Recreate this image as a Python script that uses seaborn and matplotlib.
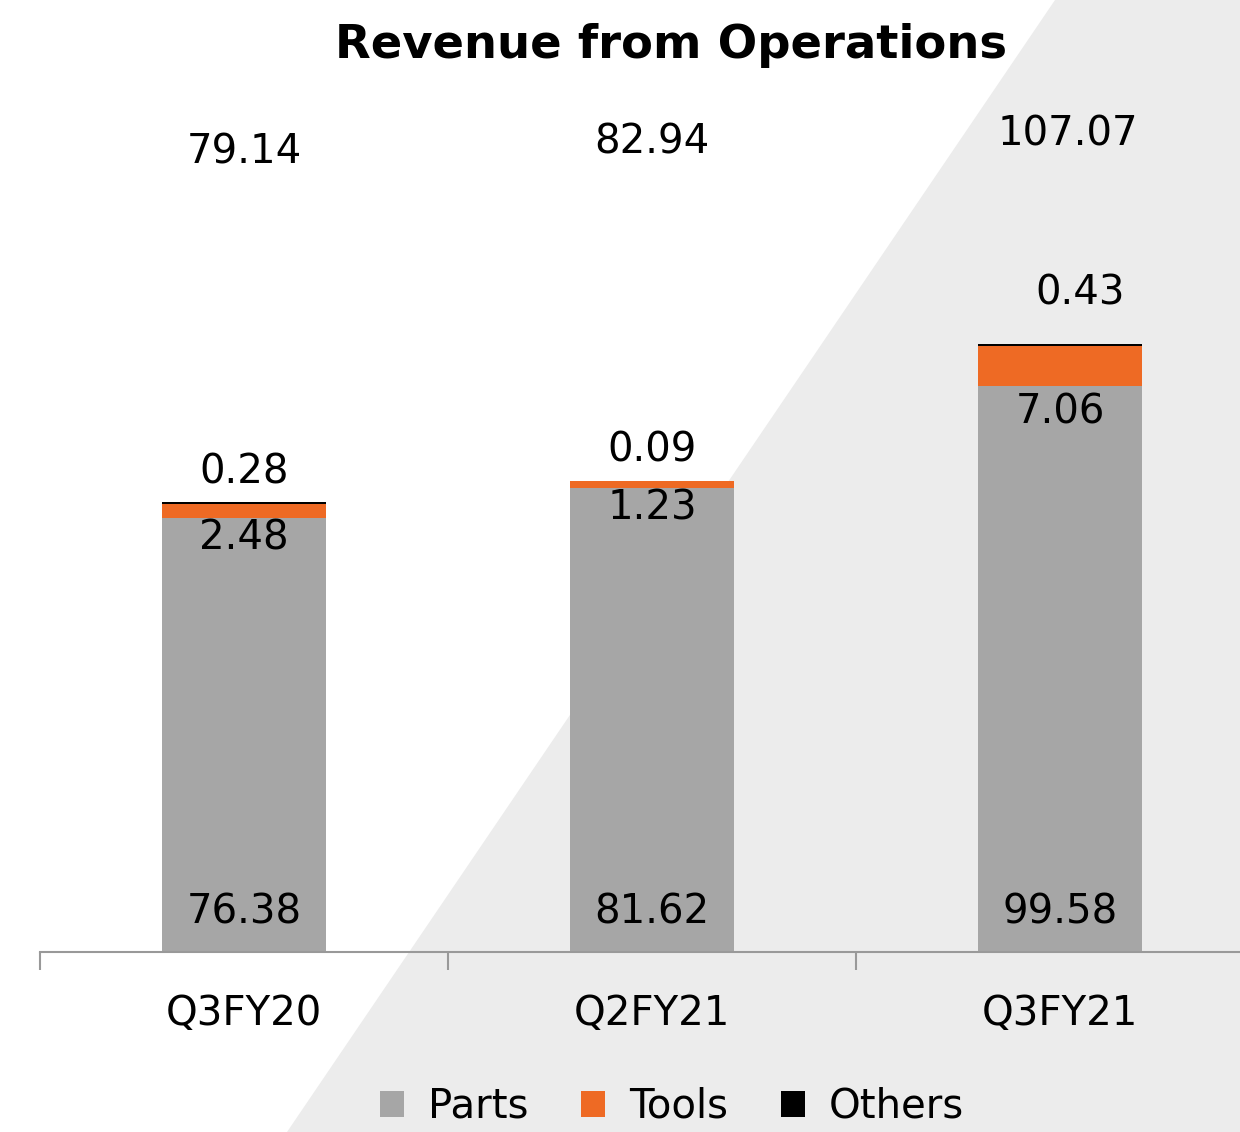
import matplotlib
matplotlib.use("Agg")
import matplotlib.pyplot as plt
import seaborn as sns
import pandas as pd
import numpy as np
from matplotlib.patches import Polygon, Patch

categories = ["Q3FY20", "Q2FY21", "Q3FY21"]
parts = [76.38, 81.62, 99.58]
tools = [2.48, 1.23, 7.06]
others = [0.28, 0.09, 0.43]
totals = [79.14, 82.94, 107.07]
series_names = ["Parts", "Tools", "Others"]
colors = ["#a6a6a6", "#ee6a24", "#000000"]

sns.set_theme(style="white")
plt.rcParams['font.family'] = ['DejaVu Sans']

W, H = 1240, 1132
fig = plt.figure(figsize=(W/100, H/100), dpi=100)
fig.patch.set_facecolor("white")

# diagonal background
poly = Polygon([(1055/W, 1.0), (1.0, 1.0), (1.0, 0.0), (287/W, 0.0)],
               closed=True, transform=fig.transFigure, facecolor="#ececec",
               edgecolor="none", zorder=-10)
fig.patches.append(poly)

ax = fig.add_axes([40/W, (H-952)/H, 1224/W, 952/H])
ax.set_facecolor("none")
ax.set_zorder(1)

df = pd.DataFrame({"cat": categories, "Parts": parts, "Tools": tools, "Others": others})
bottom1 = np.array(parts)
bottom2 = bottom1 + np.array(tools)
sns.barplot(data=df, x="cat", y="Parts", color=colors[0], width=0.40, ax=ax,
            saturation=1, linewidth=0)
sns.barplot(data=df, x="cat", y="Tools", color=colors[1], width=0.40, ax=ax,
            saturation=1, linewidth=0, bottom=bottom1)
sns.barplot(data=df, x="cat", y="Others", color=colors[2], width=0.40, ax=ax,
            saturation=1, linewidth=0, bottom=bottom2)

scale = 5.68
ax.set_ylim(0, 952/scale)
ax.set_xlim(-0.5, 2.5)

fs = 29
for i in range(3):
    ax.annotate(f"{parts[i]:.2f}", (i, 0), xytext=(0, 40), textcoords="offset pixels",
                ha="center", va="center", fontsize=fs, color="black")
    ax.annotate(f"{tools[i]:.2f}", (i, parts[i]), xytext=(0, -20 if i < 2 else -26),
                textcoords="offset pixels", ha="center", va="center", fontsize=fs, color="black")
    ax.annotate(f"{others[i]:.2f}", (i, totals[i]), xytext=(20 if i == 2 else 0, 30 if i < 2 else 50),
                textcoords="offset pixels", ha="center", va="center", fontsize=fs, color="black")
tot_y = [153, 143, 135]
for i in range(3):
    ax.text(i + (0.02 if i == 2 else 0), (952 - tot_y[i]) / scale, f"{totals[i]:.2f}",
            ha="center", va="center", fontsize=fs, color="black")

# axis styling
for s in ["top", "right", "left"]:
    ax.spines[s].set_visible(False)
ax.spines["bottom"].set_color("#999999")
ax.spines["bottom"].set_linewidth(1.5)
ax.set_yticks([])
ax.set_xticks([-0.5, 0.5, 1.5, 2.5])
ax.set_xticklabels([])
ax.tick_params(axis="x", which="major", length=13, width=1.5, color="#999999", direction="out", bottom=True)
ax.set_xticks([0, 1, 2], minor=True)
ax.set_xticklabels(categories, minor=True, fontsize=fs, color="black")
ax.tick_params(axis="x", which="minor", length=0, pad=30, labelcolor="black")
ax.set_xlabel("")
ax.set_ylabel("")

fig.text(671/W, 1 - 45/H, "Revenue from Operations", ha="center", va="center",
         fontsize=33.5, fontweight="bold", color="black")

handles = [Patch(facecolor=c, edgecolor="none") for c in colors]
fig.legend(handles, series_names, loc="center", bbox_to_anchor=(672/W, 25/H), ncol=3,
           frameon=False, fontsize=fs, handlelength=0.6, handleheight=0.6,
           handletextpad=0.6, columnspacing=1.3, labelcolor="black")

fig.savefig("out.png", dpi=100)
